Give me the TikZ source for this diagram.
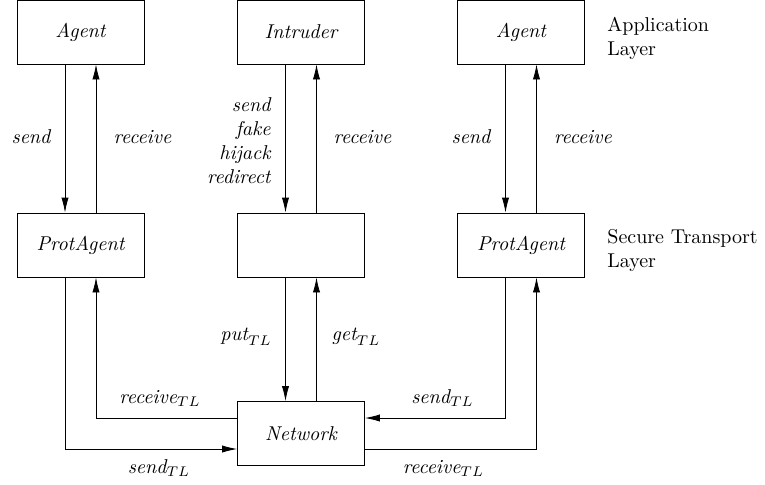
\documentclass[tikz,border=0pt]{standalone}
\usetikzlibrary{arrows.meta}
\begin{document}
\begin{tikzpicture}[x=0.5pt,y=-0.5pt,
 box/.style={draw, minimum width=63.5pt, minimum height=32pt, inner sep=0pt, font=\itshape},
 arr/.style={-{Latex[length=7.5pt,width=3.6pt]}},
 lbl/.style={font=\itshape, inner sep=0pt},
 layer/.style={align=left, anchor=west, inner sep=0pt}]
\useasboundingbox (0,0) rectangle (765,484);
% boxes
\node[box] (A1) at (80.5,32) {Agent};
\node[box] (I) at (301,32) {Intruder};
\node[box] (A2) at (521,32) {Agent};
\node[box] (P1) at (80.5,245) {ProtAgent};
\node[box] (M) at (301,245) {};
\node[box] (P2) at (521,245) {ProtAgent};
\node[box] (N) at (301,433.5) {Network};
% layer labels
\node[layer] (L1) at (607,38.5) {Application\\Layer};
\node[layer] (L2) at (607,250) {Secure Transport\\Layer};
% upper arrows
\draw[arr] ([xshift=-7.75pt]A1.south) -- ([xshift=-7.75pt]P1.north);
\draw[arr] ([xshift=7.75pt]P1.north) -- ([xshift=7.75pt]A1.south);
\draw[arr] ([xshift=-7.75pt]I.south) -- ([xshift=-7.75pt]M.north);
\draw[arr] ([xshift=7.75pt]M.north) -- ([xshift=7.75pt]I.south);
\draw[arr] ([xshift=-7.75pt]A2.south) -- ([xshift=-7.75pt]P2.north);
\draw[arr] ([xshift=7.75pt]P2.north) -- ([xshift=7.75pt]A2.south);
% middle lower arrows
\draw[arr] ([xshift=-7.75pt]M.south) -- ([xshift=-7.75pt]N.north);
\draw[arr] ([xshift=7.75pt]N.north) -- ([xshift=7.75pt]M.south);
% outer lower arrows
\draw[arr] ([xshift=-7.75pt]P1.south) |- ([yshift=-7.75pt]N.west);
\draw[arr] ([yshift=7.75pt]N.west) -| ([xshift=7.75pt]P1.south);
\draw[arr] ([xshift=-7.75pt]P2.south) |- ([yshift=7.75pt]N.east);
\draw[arr] ([yshift=-7.75pt]N.east) -| ([xshift=7.75pt]P2.south);
% labels
\node[lbl] (s1) at (31,137) {send};
\node[lbl] (r1) at (142.5,137) {receive};
\node[lbl, align=right, anchor=east] (s2) at (271,141) {send\\fake\\hijack\\redirect};
\node[lbl] (r2) at (362.5,137) {receive};
\node[lbl] (s3) at (471,137) {send};
\node[lbl] (r3) at (583,137) {receive};
\node[lbl] (put) at (246,337) {$\textit{put}_{TL}$};
\node[lbl] (get) at (356,337) {$\textit{get}_{TL}$};
\node[lbl] (rtl1) at (160,398) {$\textit{receive}_{TL}$};
\node[lbl] (stl1) at (159,468) {$\textit{send}_{TL}$};
\node[lbl] (stl2) at (442.5,398) {$\textit{send}_{TL}$};
\node[lbl] (rtl2) at (443.5,468) {$\textit{receive}_{TL}$};
\end{tikzpicture}
\end{document}
